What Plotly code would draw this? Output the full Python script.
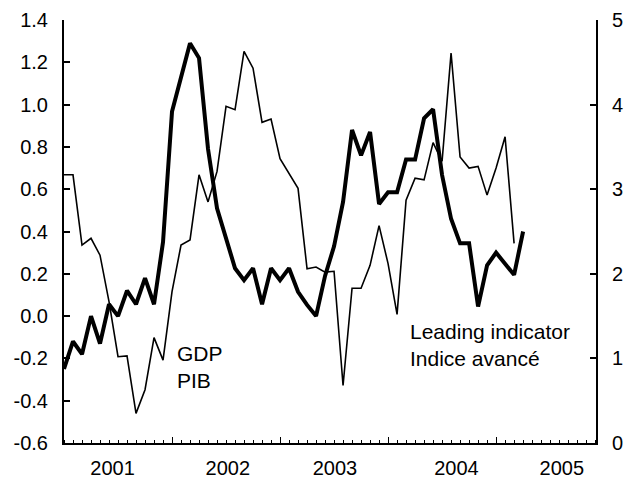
import plotly.graph_objects as go

# month index (0 = first month on the axis)
months_gdp = list(range(52))
gdp = [-0.25, -0.12, -0.18, 0.00, -0.13, 0.056, 0.00, 0.12, 0.056, 0.18,
       0.056, 0.35, 0.967, 1.12, 1.29, 1.22, 0.79, 0.51, 0.375, 0.226,
       0.17, 0.226, 0.056, 0.226, 0.17, 0.226, 0.115, 0.053, 0.00, 0.19,
       0.33, 0.54, 0.88, 0.76, 0.87, 0.53, 0.585, 0.585, 0.74, 0.74,
       0.935, 0.978, 0.667, 0.46, 0.344, 0.344, 0.045, 0.24, 0.30, 0.25,
       0.195, 0.40]

months_li = list(range(51))
leading = [3.17, 3.17, 2.34, 2.42, 2.22, 1.67, 1.02, 1.03, 0.35, 0.63,
           1.245, 0.98, 1.79, 2.34, 2.40, 3.17, 2.85, 3.21, 3.98, 3.94,
           4.63, 4.43, 3.79, 3.83, 3.36, 3.18, 3.01, 2.06, 2.08, 2.02,
           2.03, 0.68, 1.83, 1.83, 2.10, 2.57, 2.12, 1.52, 2.87, 3.13,
           3.11, 3.55, 3.33, 4.61, 3.38, 3.25, 3.27, 2.93, 3.25, 3.62,
           2.36]

year_labels = ["2001", "2002", "2003", "2004", "2005"]
year_label_pos = [5.4, 18.2, 30.1, 43.6, 55.3]
year_bounds = [12, 24, 36, 48]

left_ticks = [-0.6, -0.4, -0.2, 0.0, 0.2, 0.4, 0.6, 0.8, 1.0, 1.2, 1.4]
left_ticktext = ["-0.6", "-0.4", "-0.2", "0.0", "0.2", "0.4", "0.6", "0.8", "1.0", "1.2", "1.4"]
right_ticks = [0, 1, 2, 3, 4, 5]

FONT = "Liberation Sans, Arial, Helvetica, sans-serif"
FS = 20
FS_ANN = 21
XMAX = 59.1

fig = go.Figure()
fig.add_trace(go.Scatter(x=months_li, y=leading, mode="lines", yaxis="y2",
                         line=dict(color="black", width=1.6), showlegend=False))
fig.add_trace(go.Scatter(x=months_gdp, y=gdp, mode="lines", yaxis="y",
                         line=dict(color="black", width=4), showlegend=False))
# invisible trace to carry the year-boundary tick axis
fig.add_trace(go.Scatter(x=[0], y=[0], xaxis="x2", yaxis="y", mode="markers",
                         marker=dict(opacity=0), showlegend=False, hoverinfo="skip"))

# page body has an 8px margin: figure is 8px smaller, left/top margins reduced by 8
fig.update_layout(
    width=625, height=471,
    margin=dict(l=56, r=37, t=12, b=36),
    plot_bgcolor="white", paper_bgcolor="white",
    font=dict(family=FONT, size=FS, color="black"),
    xaxis=dict(range=[0, XMAX], showgrid=False, zeroline=False, automargin=False,
               showline=True, linecolor="black", linewidth=2,
               tickmode="array", tickvals=year_label_pos, ticktext=year_labels,
               ticks="", ticklabelstandoff=6,
               minor=dict(tickmode="linear", tick0=0, dtick=1, ticks="inside",
                          ticklen=3, tickwidth=1, tickcolor="black", showgrid=False)),
    xaxis2=dict(range=[0, XMAX], overlaying="x", side="bottom", anchor="y",
                showgrid=False, zeroline=False, showline=False, automargin=False,
                tickmode="array", tickvals=year_bounds, showticklabels=False,
                ticks="inside", ticklen=6, tickwidth=1, tickcolor="black"),
    yaxis=dict(range=[-0.6, 1.4], showgrid=False, zeroline=False, automargin=False,
               showline=True, linecolor="black", linewidth=2,
               tickmode="array", tickvals=left_ticks, ticktext=left_ticktext,
               ticks="inside", ticklen=6, tickwidth=2, tickcolor="black",
               ticklabelstandoff=10),
    yaxis2=dict(range=[0, 5], overlaying="y", side="right", showgrid=False,
                zeroline=False, showline=True, linecolor="black", linewidth=2,
                automargin=False,
                tickmode="array", tickvals=right_ticks,
                ticks="inside", ticklen=6, tickwidth=2, tickcolor="black",
                ticklabelstandoff=10),
    annotations=[
        dict(x=12.3, y=-0.115, xref="x", yref="y", text="GDP<br>PIB",
             showarrow=False, xanchor="left", yanchor="top", align="left",
             font=dict(family=FONT, size=FS_ANN, color="black")),
        dict(x=38.2, y=-0.01, xref="x", yref="y", text="Leading indicator<br>Indice avancé",
             showarrow=False, xanchor="left", yanchor="top", align="left",
             font=dict(family=FONT, size=FS_ANN, color="black")),
    ],
)

fig.write_html("out.html")
